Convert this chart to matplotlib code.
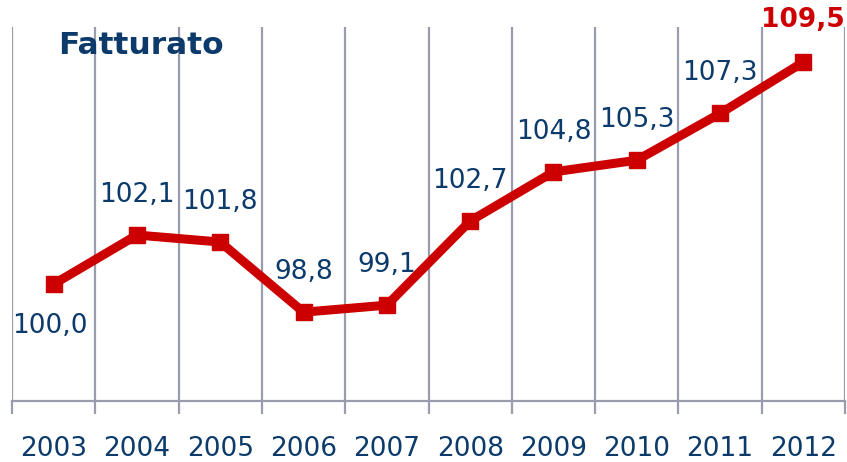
import matplotlib.pyplot as plt

# dati
anni = ['2003', '2004', '2005', '2006', '2007', '2008', '2009', '2010', '2011', '2012']
fatturato = [100.0, 102.1, 101.8, 98.8, 99.1, 102.7, 104.8, 105.3, 107.3, 109.5]

blu = '#0B3A6B'
rosso = '#CC0000'
grigio = '#9A9CAE'

fig = plt.figure(figsize=(8.47, 4.62), dpi=100)
ax = fig.add_axes([12 / 847, 61 / 462, 833 / 847, 374 / 462])

x = list(range(len(anni)))
ax.plot(x, fatturato, color=rosso, linewidth=6.5, marker='s', markersize=12,
        solid_joinstyle='miter', zorder=3)

ax.set_xlim(-0.5, len(anni) - 0.5)
ax.set_ylim(95, 111)

# griglia verticale ai bordi delle categorie
for b in range(len(anni) + 1):
    ax.axvline(b - 0.5, color=grigio, linewidth=1.6, zorder=1)

for s in ['top', 'right', 'left']:
    ax.spines[s].set_visible(False)
ax.spines['bottom'].set_color(grigio)
ax.spines['bottom'].set_linewidth(1.6)
ax.set_yticks([])
ax.set_xticks([b - 0.5 for b in range(len(anni) + 1)])
ax.set_xticklabels([])
ax.tick_params(axis='x', length=9, width=1.6, color=grigio, direction='out')
for i, a in enumerate(anni):
    ax.text(i, 95 - 1.5, a, ha='center', va='top', fontsize=19, color=blu)

# etichette valori
for i, v in enumerate(fatturato):
    etichetta = f'{v:.1f}'.replace('.', ',')
    if i == 0:
        ax.annotate(etichetta, (i, v), xytext=(-3, -30), textcoords='offset points',
                    ha='center', va='center', fontsize=19, color=blu)
    elif i == len(fatturato) - 1:
        ax.annotate(etichetta, (i, v), xytext=(0, 30), textcoords='offset points',
                    ha='center', va='center', fontsize=19, color=rosso, fontweight='bold')
    else:
        ax.annotate(etichetta, (i, v), xytext=(0, 29), textcoords='offset points',
                    ha='center', va='center', fontsize=19, color=blu)

fig.text(58 / 847, 1 - 45 / 462, 'Fatturato', fontsize=22.5, fontweight='bold',
         color=blu, ha='left', va='center')

fig.savefig('out.png', dpi=100)
